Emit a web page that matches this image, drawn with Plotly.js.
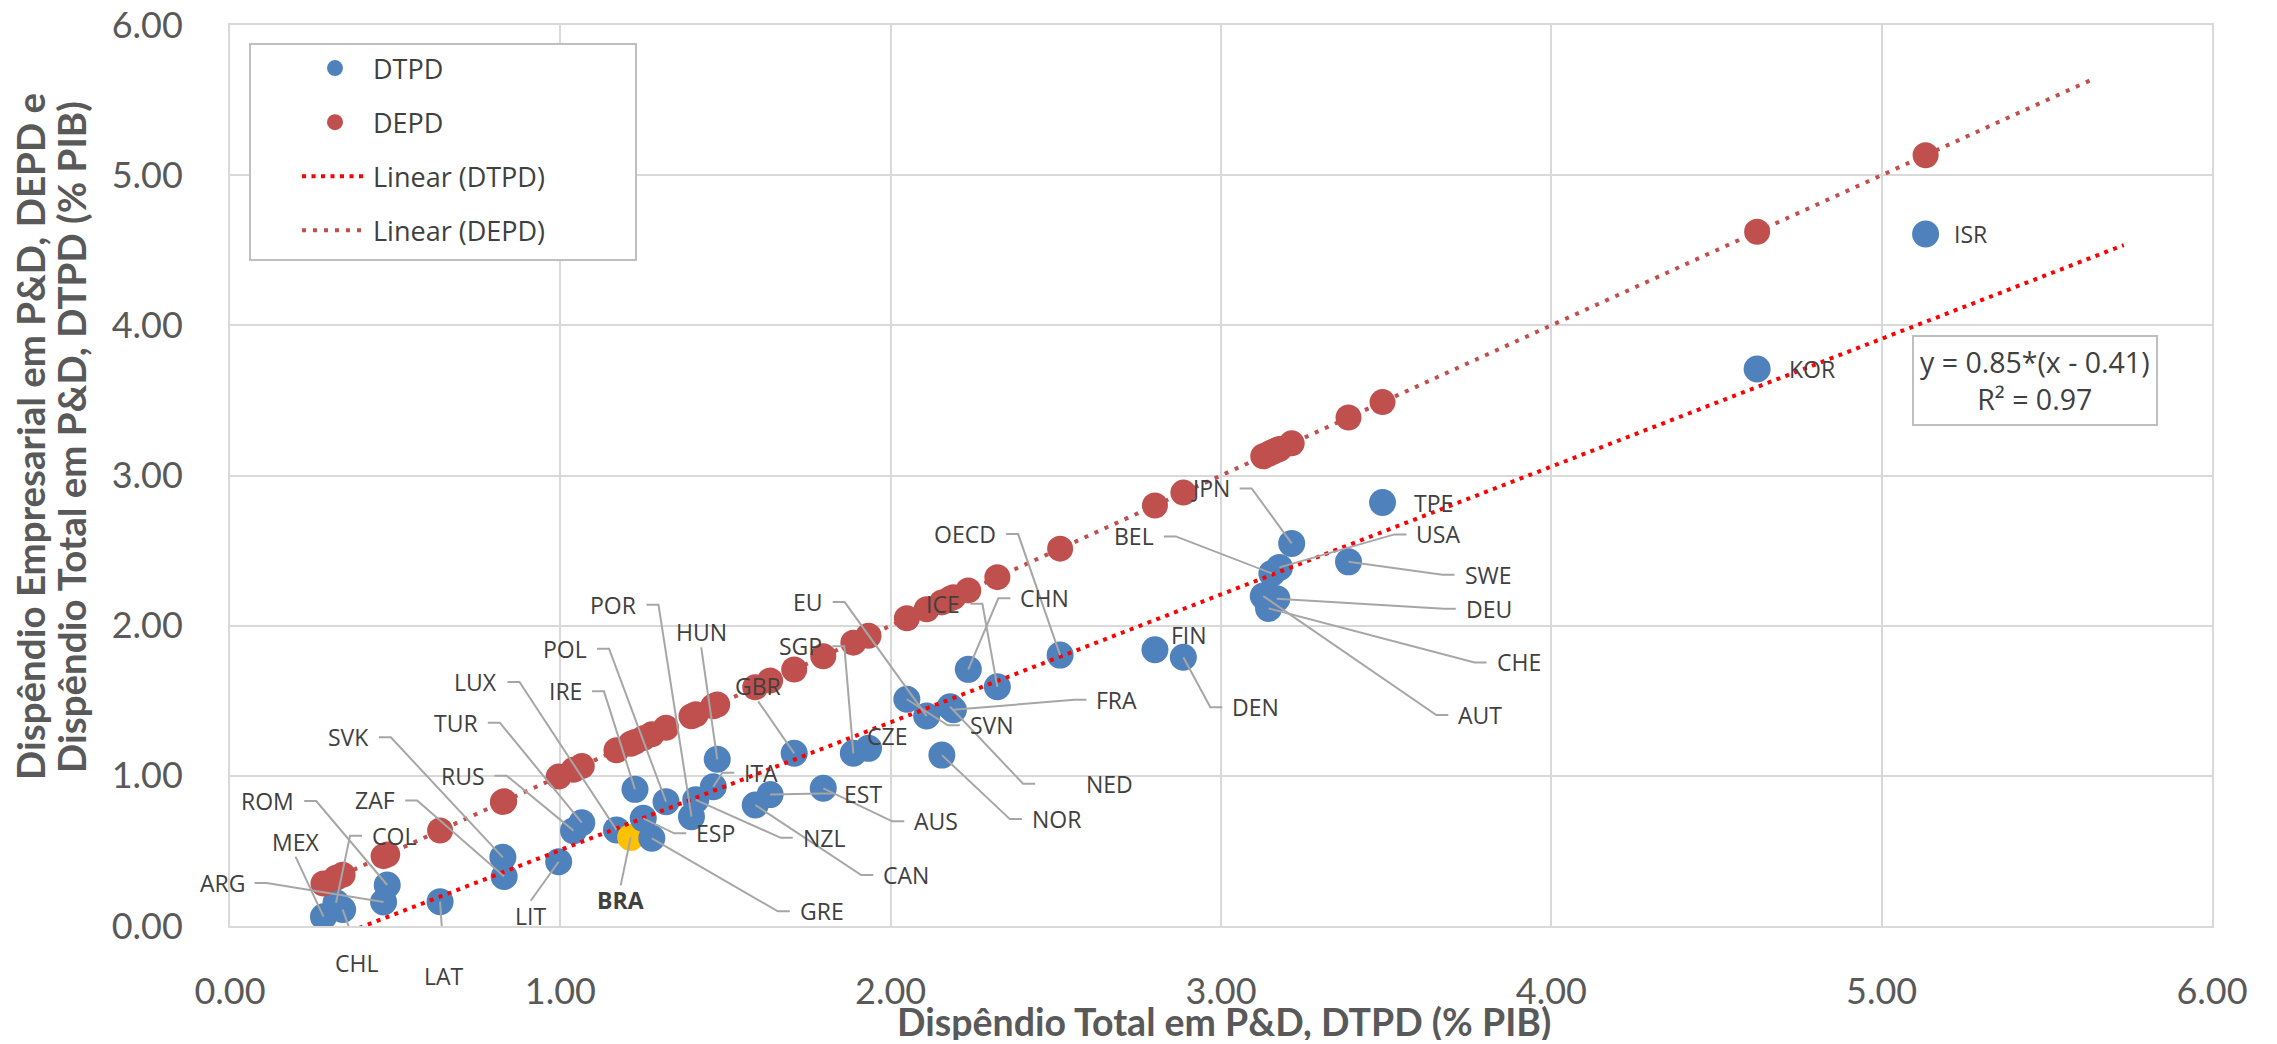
<!DOCTYPE html>
<html>
<head>
<meta charset="utf-8">
<script src="https://cdn.plot.ly/plotly-3.0.1.min.js"></script>
<style>html,body{margin:0;padding:0;background:#fff;}#chart{width:2277px;height:1044px;}</style>
</head>
<body>
<div id="chart"></div>
<script>
// ---- Data ----
const CATEGORIES = ['ARG','MEX','CHL','COL','ROM','LAT','ZAF','SVK','LIT','RUS','TUR','LUX','BRA','IRE','ESP','GRE','POL','POR','NZL','ITA','HUN','CAN','EST','GBR','AUS','SGP','CZE','SVN','EU','NOR','NED','FRA','CHN','ICE','OECD','FIN','DEN','AUT','CHE','BEL','DEU','USA','JPN','SWE','TPE','KOR','ISR'];
// Dispêndio Total em P&D (% PIB)
const DTPD = [0.465,0.283,0.341,0.321,0.476,0.636,0.830,0.826,0.995,1.040,1.065,1.170,1.213,1.226,1.251,1.277,1.320,1.397,1.410,1.463,1.475,1.590,1.635,1.708,1.796,1.887,1.933,2.049,2.109,2.155,2.180,2.190,2.235,2.323,2.513,2.800,2.886,3.128,3.144,3.154,3.169,3.177,3.214,3.386,3.489,4.623,5.133];
// Dispêndio Empresarial em P&D (% PIB)
const DEPD = [0.160,0.062,0.110,0.155,0.273,0.162,0.330,0.457,0.428,0.635,0.688,0.640,0.590,0.910,0.717,0.584,0.828,0.728,0.840,0.927,1.110,0.806,0.875,1.150,0.917,1.150,1.183,1.510,1.398,1.138,1.460,1.440,1.709,1.593,1.804,1.840,1.790,2.197,2.115,2.348,2.180,2.388,2.548,2.425,2.820,3.709,4.608];
const HIGHLIGHT = 'BRA';
const SERIES_NAMES = ['DTPD','DEPD','Linear (DTPD)','Linear (DEPD)'];
const EQUATION_TEXT = 'y = 0.85*(x - 0.41)<br>R² = 0.97';
const TICK_VALUES = [0,1,2,3,4,5,6];
const X_TITLE = 'Dispêndio Total em P&D, DTPD (% PIB)';
const Y_TITLE_LINES = ['Dispêndio Empresarial em P&D, DEPD e', 'Dispêndio Total em P&D, DTPD (% PIB)'];
const FORECAST_BLUE = 0.6, FORECAST_RED = 0.5;

// ---- Label placement (pixel offsets from the point; screen y down) ----
const LABEL_POS = {
 ARG:['R',-138,-19], MEX:['B',-28,-75], CHL:['T',14,54], COL:['L',35,-67], ROM:['R',-92,-84],
 LAT:['T',4,74], ZAF:['R',-108,-76], SVK:['R',-133,-120], LIT:['T',-28,54], RUS:['R',-88,-55],
 TUR:['R',-103,-100], LUX:['R',-118,-148], BRA:['T',-10,63], IRE:['R',-52,-98], ESP:['L',52,15],
 GRE:['L',147,73], POL:['R',-78,-153], POR:['R',-54,-212], NZL:['L',106,38], ITA:['L',30,-14],
 HUN:['B',-16,-127], CAN:['L',127,70], EST:['L',73,-1], GBR:['B',-36,-67], AUS:['L',90,33],
 SGP:['R',-30,-107], CZE:['N',18,-12], SVN:['L',62,26], EU:['R',-103,-114], NOR:['L',89,64],
 NED:['L',135,77,85], FRA:['L',142,-10], CHN:['L',51,-71], ICE:['R',-36,-83], OECD:['R',-63,-121],
 FIN:['N',34,-15], DEN:['L',48,50], AUT:['L',194,119], CHE:['L',227,54], BEL:['R',-117,-37],
 DEU:['L',188,10], USA:['L',136,-33], JPN:['R',-61,-55], SWE:['L',115,13], TPE:['N',51,0],
 KOR:['N',55,0], ISR:['N',45,0]
};

function linfit(xs, ys){
  const n = xs.length; let sx=0,sy=0,sxx=0,sxy=0;
  for(let i=0;i<n;i++){sx+=xs[i];sy+=ys[i];sxx+=xs[i]*xs[i];sxy+=xs[i]*ys[i];}
  const b=(n*sxy-sx*sy)/(n*sxx-sx*sx); const a=(sy-b*sx)/n; return {a,b};
}
const xmin = Math.min(...DTPD), xmax = Math.max(...DTPD);
const fitB = linfit(DTPD, DEPD);
const fitR = linfit(DTPD, DTPD);
const tbx = [xmin, xmax + FORECAST_BLUE];
const trx = [xmin, xmax + FORECAST_RED];

const BLUE='#4F81BD', RED='#C0504D', YEL='#FFC000';
const blueColors = CATEGORIES.map(c => c===HIGHLIGHT ? YEL : BLUE);

const traces = [
 {type:'scatter', mode:'markers', name:SERIES_NAMES[0], x:DTPD, y:DEPD, legendgroup:'a',
  marker:{color:blueColors, size:27, line:{width:0}}, hoverinfo:'skip'},
 {type:'scatter', mode:'markers', name:SERIES_NAMES[1], x:DTPD, y:DTPD, legendgroup:'b',
  marker:{color:RED, size:26, line:{width:0}}, hoverinfo:'skip'},
 {type:'scatter', mode:'lines', name:SERIES_NAMES[2], x:tbx, y:tbx.map(v=>fitB.a+fitB.b*v), legendgroup:'c',
  line:{color:'#FF0000', width:4, dash:'4px,5.5px'}, hoverinfo:'skip'},
 {type:'scatter', mode:'lines', name:SERIES_NAMES[3], x:trx, y:trx.map(v=>fitR.a+fitR.b*v), legendgroup:'d',
  line:{color:RED, width:4, dash:'4px,7px'}, hoverinfo:'skip'}
];

const LBLFONT = {family:'Open Sans, sans-serif', size:23, color:'#404040'};
const GAP = 9, STUB = 12, HALF_H = 15;
const annotations = [];
const shapes = [];

CATEGORIES.forEach((c,i)=>{
  const p = LABEL_POS[c]; if(!p) return;
  const [t, ox, oy, stubEnd] = p;
  const xa = t==='L' ? 'left' : (t==='R' ? 'right' : 'center');
  annotations.push({x:DTPD[i], y:DEPD[i], xref:'x', yref:'y', text: c===HIGHLIGHT ? '<b>'+c+'</b>' : c,
    showarrow:false, xanchor:xa, yanchor:'middle', xshift:ox, yshift:-oy, font:LBLFONT, borderpad:0});
  let path = null;
  if(t==='L'){
    const se = stubEnd!==undefined ? stubEnd : ox-GAP; const el = se-STUB;
    path = `M0,0 L${el},${-oy} L${se},${-oy}`;
  } else if(t==='R'){
    const se = ox+GAP; const el = se+STUB;
    path = `M0,0 L${el},${-oy} L${se},${-oy}`;
  } else if(t==='T'){
    path = `M0,0 L${ox},${-(oy-HALF_H)}`;
  } else if(t==='B'){
    path = `M0,0 L${ox},${-(oy+HALF_H)}`;
  }
  if(path){
    shapes.push({type:'path', xref:'x', yref:'y', xsizemode:'pixel', ysizemode:'pixel',
      xanchor:DTPD[i], yanchor:DEPD[i], path:path, layer:'above',
      line:{color:'#A6A6A6', width:2}});
  }
});

// legend frame
const L=230, R=65, T=25, B=118, W=2277-L-R, H=1044-T-B;
const px2paperX = px => (px-L)/W, px2paperY = py => (1044-B-py)/H;
shapes.push({type:'rect', xref:'paper', yref:'paper', x0:px2paperX(250), x1:px2paperX(636), y0:px2paperY(260), y1:px2paperY(44),
  fillcolor:'#FFFFFF', line:{color:'#BFBFBF', width:2}, layer:'above'});

annotations.push({xref:'paper', yref:'paper', x:px2paperX(2035), y:px2paperY(380), text:EQUATION_TEXT, showarrow:false,
  xanchor:'center', yanchor:'middle', font:{family:'Open Sans, sans-serif', size:28.5, color:'#404040'},
  bordercolor:'#BFBFBF', borderwidth:2, borderpad:6, bgcolor:'#FFFFFF', align:'center'});

annotations.push({xref:'paper', yref:'paper', x:px2paperX(1224), y:px2paperY(1021), text:'<b>'+X_TITLE+'</b>', showarrow:false,
  xanchor:'center', yanchor:'middle', height:38, valign:'middle', font:{family:'Lato, sans-serif', size:37.5, color:'#595959'}});
[30, 71].forEach((xpx, k)=>{
  annotations.push({xref:'paper', yref:'paper', x:px2paperX(xpx), y:px2paperY(437), text:'<b>'+Y_TITLE_LINES[k]+'</b>', showarrow:false,
    textangle:-90, xanchor:'center', yanchor:'middle', font:{family:'Lato, sans-serif', size:38.5, color:'#595959'}});
});

const axisCommon = {range:[0,6], tickvals:TICK_VALUES, tickformat:'.2f', showgrid:true, gridcolor:'#D9D9D9', gridwidth:2,
  zeroline:false, showline:true, mirror:true, linecolor:'#D9D9D9', linewidth:2, ticks:'',
  tickfont:{family:'Lato, sans-serif', size:36, color:'#595959'}, fixedrange:true};

const layout = {
  width:2277, height:1044, margin:{l:L, r:R, t:T, b:B, pad:0},
  paper_bgcolor:'#FFFFFF', plot_bgcolor:'#FFFFFF',
  xaxis:Object.assign({}, axisCommon, {ticklabelstandoff:33}),
  yaxis:Object.assign({}, axisCommon, {ticklabelstandoff:38}),
  showlegend:true,
  legend:{x:px2paperX(258), y:px2paperY(44), xanchor:'left', yanchor:'top', bgcolor:'rgba(0,0,0,0)', borderwidth:0,
    font:{family:'Open Sans, sans-serif', size:27, color:'#404040'}, itemwidth:66, indentation:39, tracegroupgap:16,
    itemclick:false, itemdoubleclick:false},
  annotations:annotations, shapes:shapes
};

Plotly.newPlot('chart', traces, layout, {displayModeBar:false, staticPlot:true});
</script>
</body>
</html>
